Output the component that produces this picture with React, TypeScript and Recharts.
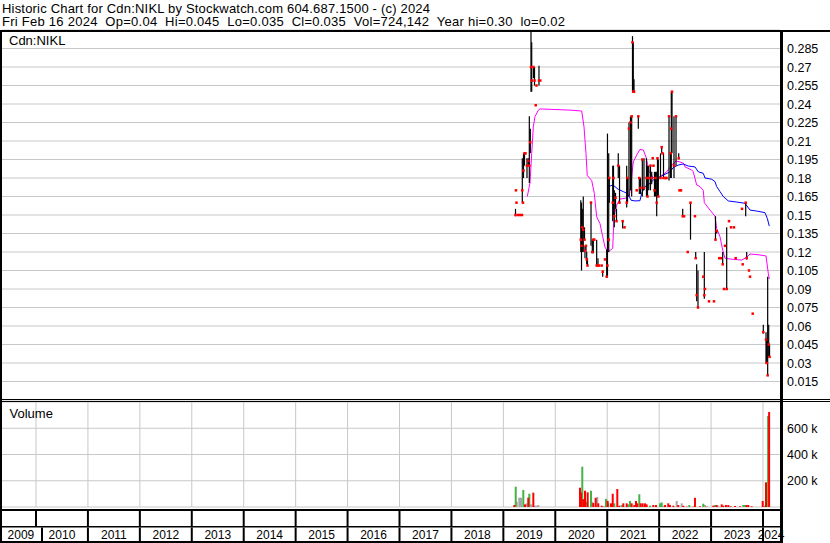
import React from 'react';
import { ComposedChart, Scatter, Line, XAxis, YAxis, CartesianGrid, ErrorBar } from 'recharts';

const FONT = '"Liberation Sans", Arial, Helvetica, sans-serif';

const headerLine1 = 'Historic Chart for Cdn:NIKL by Stockwatch.com 604.687.1500 - (c) 2024';
const headerLine2 = 'Fri Feb 16 2024  Op=0.04  Hi=0.045  Lo=0.035  Cl=0.035  Vol=724,142  Year hi=0.30  lo=0.02';
const symbolLabel = 'Cdn:NIKL';
const volumeLabel = 'Volume';

const xDomain: [number, number] = [2009.3453, 2024.3274];
const yearStarts = [2010, 2011, 2012, 2013, 2014, 2015, 2016, 2017, 2018, 2019, 2020, 2021, 2022, 2023, 2024];
const yearLabelPositions = [2009.71, 2010.5, 2011.5, 2012.5, 2013.5, 2014.5, 2015.5, 2016.5, 2017.5, 2018.5, 2019.5, 2020.5, 2021.5, 2022.5, 2023.5, 2024.154];

const priceTicks = [0.015, 0.03, 0.045, 0.06, 0.075, 0.09, 0.105, 0.12, 0.135, 0.15, 0.165, 0.18, 0.195, 0.21, 0.225, 0.24, 0.255, 0.27, 0.285];
const priceDomain: [number, number] = [0, 0.3];
const volumeTicks = [200000, 400000, 600000];
const volumeDomain: [number, number] = [0, 800000];

// trading days (fractional year), high, low, close
const tradeDates = [
  2019.234, 2019.243, 2019.253, 2019.282, 2019.320, 2019.359, 2019.365, 2019.378, 2019.388, 2019.407,
  2019.426, 2019.455, 2019.480, 2019.500, 2019.519, 2019.532, 2019.546, 2019.580, 2019.600, 2019.623,
  2019.638, 2019.686, 2019.711,
  2020.491, 2020.505, 2020.520, 2020.539, 2020.563, 2020.572, 2020.591, 2020.605, 2020.620, 2020.688,
  2020.713, 2020.732, 2020.751, 2020.797, 2020.822, 2020.842, 2020.894, 2020.913, 2020.957, 2020.990,
  2021.005, 2021.029,
  2021.040, 2021.106, 2021.121, 2021.136, 2021.160, 2021.179, 2021.213, 2021.237, 2021.298, 2021.333,
  2021.375, 2021.391, 2021.419, 2021.448, 2021.471, 2021.487, 2021.502, 2021.516, 2021.568, 2021.599,
  2021.618, 2021.641, 2021.676, 2021.708, 2021.756, 2021.776, 2021.799, 2021.833, 2021.857, 2021.876,
  2021.891, 2021.910, 2021.930, 2021.953, 2021.968, 2021.984, 2022.026, 2022.049, 2022.065, 2022.084,
  2022.122, 2022.142, 2022.190, 2022.219, 2022.234, 2022.248, 2022.286, 2022.325, 2022.377, 2022.392,
  2022.421, 2022.454, 2022.479,
  2022.550, 2022.604, 2022.690, 2022.704, 2022.723, 2022.748, 2022.850, 2022.870, 2022.883, 2022.960,
  2023.056, 2023.085, 2023.108, 2023.158, 2023.191, 2023.224, 2023.249, 2023.268, 2023.301, 2023.345,
  2023.384, 2023.441, 2023.474, 2023.596, 2023.609, 2023.667, 2023.686, 2023.730, 2023.750, 2023.802,
  2024.006, 2024.058, 2024.071, 2024.090, 2024.110, 2024.126,
];
const tradeHighs = [
  0.155, 0.17, 0.16, 0.15, 0.15, 0.15, 0.196, 0.16, 0.2, 0.2,
  0.2, 0.196, 0.196, 0.23, 0.22, 0.3, 0.29, 0.27, 0.27, 0.239,
  0.255, 0.271, 0.259,
  0.162, 0.16, 0.155, 0.165, 0.14, 0.125, 0.125, 0.12, 0.115, 0.161,
  0.13, 0.13, 0.13, 0.13, 0.115, 0.109, 0.109, 0.105, 0.114, 0.122,
  0.216, 0.2,
  0.18, 0.19, 0.19, 0.17, 0.168, 0.155, 0.2, 0.19, 0.145, 0.14,
  0.19, 0.18, 0.225, 0.23, 0.23, 0.295, 0.29, 0.26, 0.17, 0.23,
  0.18, 0.18, 0.195, 0.196, 0.196, 0.19, 0.19, 0.19, 0.185, 0.196,
  0.19, 0.185, 0.185, 0.185, 0.196, 0.195, 0.2, 0.205, 0.2, 0.2,
  0.18, 0.18, 0.23, 0.2, 0.25, 0.25, 0.23, 0.23, 0.2, 0.17,
  0.17, 0.155, 0.149,
  0.12, 0.16, 0.149, 0.12, 0.11, 0.105, 0.1, 0.12, 0.09, 0.08,
  0.08, 0.149, 0.137, 0.115, 0.115, 0.12, 0.09, 0.125, 0.14, 0.145,
  0.14, 0.14, 0.115, 0.155, 0.11, 0.16, 0.12, 0.105, 0.1, 0.07,
  0.061, 0.055, 0.05, 0.1, 0.061, 0.045,
];
const tradeLows = [
  0.149, 0.17, 0.16, 0.15, 0.15, 0.15, 0.16, 0.16, 0.18, 0.19,
  0.2, 0.18, 0.19, 0.176, 0.2, 0.25, 0.25, 0.261, 0.255, 0.239,
  0.255, 0.255, 0.259,
  0.12, 0.105, 0.12, 0.12, 0.13, 0.115, 0.12, 0.11, 0.109, 0.125,
  0.119, 0.119, 0.13, 0.109, 0.109, 0.109, 0.109, 0.1, 0.114, 0.099,
  0.1, 0.12,
  0.16, 0.145, 0.149, 0.14, 0.155, 0.145, 0.18, 0.16, 0.139, 0.14,
  0.156, 0.16, 0.165, 0.17, 0.165, 0.25, 0.25, 0.25, 0.17, 0.22,
  0.167, 0.167, 0.165, 0.17, 0.165, 0.165, 0.17, 0.17, 0.175, 0.196,
  0.19, 0.165, 0.165, 0.149, 0.165, 0.165, 0.18, 0.2, 0.2, 0.18,
  0.18, 0.18, 0.178, 0.18, 0.18, 0.2, 0.18, 0.19, 0.196, 0.17,
  0.17, 0.149, 0.149,
  0.12, 0.13, 0.149, 0.115, 0.08, 0.075, 0.1, 0.082, 0.09, 0.08,
  0.08, 0.13, 0.135, 0.115, 0.115, 0.11, 0.09, 0.125, 0.09, 0.145,
  0.14, 0.14, 0.115, 0.155, 0.11, 0.149, 0.114, 0.105, 0.1, 0.07,
  0.054, 0.03, 0.03, 0.02, 0.035, 0.035,
];
const tradeCloses = [
  0.15, 0.17, 0.16, 0.15, 0.15, 0.15, 0.17, 0.16, 0.186, 0.2,
  0.2, 0.19, 0.194, 0.19, 0.209, 0.27, 0.259, 0.27, 0.259, 0.239,
  0.255, 0.259, 0.259,
  0.13, 0.125, 0.14, 0.138, 0.13, 0.121, 0.125, 0.114, 0.109, 0.16,
  0.12, 0.13, 0.13, 0.109, 0.109, 0.109, 0.109, 0.104, 0.114, 0.1,
  0.109, 0.13,
  0.18, 0.16, 0.18, 0.149, 0.164, 0.145, 0.19, 0.16, 0.145, 0.14,
  0.16, 0.18, 0.22, 0.225, 0.23, 0.29, 0.25, 0.25, 0.17, 0.23,
  0.18, 0.172, 0.195, 0.172, 0.18, 0.165, 0.18, 0.19, 0.18, 0.196,
  0.19, 0.17, 0.18, 0.16, 0.196, 0.165, 0.18, 0.205, 0.2, 0.18,
  0.18, 0.18, 0.23, 0.2, 0.22, 0.25, 0.19, 0.23, 0.196, 0.17,
  0.17, 0.149, 0.149,
  0.12, 0.16, 0.149, 0.115, 0.085, 0.075, 0.1, 0.085, 0.09, 0.08,
  0.08, 0.13, 0.137, 0.115, 0.115, 0.11, 0.09, 0.125, 0.09, 0.145,
  0.14, 0.14, 0.115, 0.155, 0.11, 0.16, 0.115, 0.105, 0.1, 0.07,
  0.055, 0.049, 0.03, 0.02, 0.045, 0.035,
];

// short moving average (magenta)
const maShortDates = [
  2019.461, 2019.513, 2019.546, 2019.577, 2019.609, 2019.673, 2019.706, 2019.898, 2020.303, 2020.509,
  2020.553, 2020.591, 2020.616, 2020.701, 2020.751, 2020.797, 2020.861, 2020.913, 2020.957, 2020.990,
  2021.015, 2021.106, 2021.131, 2021.183, 2021.246, 2021.342, 2021.425, 2021.471, 2021.502, 2021.568,
  2021.631, 2021.695, 2021.747, 2021.810, 2021.876, 2021.953, 2022.049, 2022.145, 2022.242, 2022.325,
  2022.402, 2022.465, 2022.498, 2022.627, 2022.658, 2022.723, 2022.787, 2022.850, 2022.870, 2022.979,
  2023.076, 2023.108, 2023.172, 2023.224, 2023.268, 2023.428, 2023.590, 2023.686, 2023.750, 2023.942,
  2024.058, 2024.102, 2024.121,
];
const maShortValues = [
  0.165, 0.176, 0.2, 0.2216, 0.2297, 0.235, 0.236, 0.2357, 0.235, 0.2343,
  0.2216, 0.2, 0.182, 0.178, 0.1676, 0.1486, 0.143, 0.1324, 0.124, 0.1216,
  0.12, 0.123, 0.1486, 0.158, 0.163, 0.1635, 0.1654, 0.181, 0.193, 0.1986,
  0.2032, 0.2027, 0.197, 0.185, 0.181, 0.178, 0.182, 0.185, 0.1905, 0.1938,
  0.193, 0.192, 0.189, 0.1865, 0.185, 0.1743, 0.173, 0.17, 0.16, 0.154,
  0.149, 0.139, 0.1324, 0.1216, 0.1149, 0.114, 0.1135, 0.1157, 0.1184, 0.1176,
  0.1168, 0.1027, 0.098,
];

// long moving average (blue)
const maLongDates = [
  2021.021, 2021.106, 2021.150, 2021.213, 2021.310, 2021.375, 2021.425, 2021.458, 2021.535, 2021.631,
  2021.664, 2021.728, 2021.824, 2021.920, 2022.016, 2022.113, 2022.209, 2022.273, 2022.369, 2022.465,
  2022.561, 2022.690, 2022.754, 2022.850, 2022.883, 2023.012, 2023.076, 2023.108, 2023.172, 2023.235,
  2023.332, 2023.493, 2023.653, 2023.750, 2023.879, 2024.038, 2024.083, 2024.121,
];
const maLongValues = [
  0.173, 0.1743, 0.173, 0.1708, 0.169, 0.1676, 0.1649, 0.162, 0.1614, 0.1616,
  0.1676, 0.173, 0.1757, 0.1797, 0.181, 0.183, 0.185, 0.1886, 0.1905, 0.1914,
  0.1897, 0.189, 0.185, 0.1838, 0.18, 0.179, 0.177, 0.173, 0.169, 0.165,
  0.1614, 0.1605, 0.1595, 0.154, 0.1532, 0.1519, 0.1473, 0.141,
];

// volume: date, shares, direction (u = up, d = down, n = unchanged)
const volumeDates = [
  2019.211, 2019.238, 2019.257, 2019.307, 2019.340, 2019.384, 2019.417, 2019.449, 2019.480, 2019.500,
  2019.532, 2019.577, 2019.609, 2019.642, 2019.673,
  2020.476, 2020.495, 2020.520, 2020.539, 2020.572, 2020.605, 2020.624, 2020.688, 2020.713, 2020.732,
  2020.778, 2020.809, 2020.828, 2020.894, 2020.938, 2020.977, 2021.009, 2021.021, 2021.073, 2021.106,
  2021.136, 2021.194, 2021.233, 2021.279, 2021.310, 2021.375, 2021.406, 2021.439, 2021.471, 2021.522,
  2021.554, 2021.579, 2021.618, 2021.645, 2021.683, 2021.728, 2021.760, 2021.824, 2021.887, 2021.939,
  2022.016, 2022.049, 2022.080, 2022.113, 2022.176, 2022.209, 2022.273, 2022.338, 2022.369, 2022.434,
  2022.465, 2022.531, 2022.581, 2022.658, 2022.690, 2022.787, 2022.850, 2022.883, 2022.916, 2023.043,
  2023.076, 2023.108, 2023.139, 2023.205, 2023.235, 2023.287, 2023.332, 2023.378, 2023.461, 2023.557,
  2023.621, 2023.653, 2023.686, 2023.717, 2023.782, 2023.994, 2024.033, 2024.058, 2024.098, 2024.118,
];
const volumeValues = [
  15000, 155000, 40000, 71000, 71000, 130000, 20000, 28000, 71000, 101000,
  20000, 109000, 10000, 10000, 15000,
  147000, 110000, 307000, 60000, 124000, 40000, 112000, 124000, 40000, 30000,
  70000, 76000, 28000, 10000, 8000, 62000, 47000, 28000, 28000, 101000,
  28000, 137000, 10000, 15000, 28000, 28000, 20000, 46000, 28000, 15000,
  46000, 28000, 97000, 28000, 28000, 28000, 20000, 10000, 15000, 15000,
  28000, 35000, 10000, 15000, 28000, 15000, 10000, 46000, 15000, 28000,
  10000, 3000, 15000, 3000, 70000, 5000, 25000, 15000, 3000, 10000,
  15000, 15000, 10000, 20000, 10000, 15000, 15000, 5000, 8000, 5000,
  15000, 15000, 15000, 15000, 5000, 46000, 10000, 188000, 693000, 724142,
];
const volumeDirections = [
  'd', 'u', 'n', 'n', 'n', 'u', 'd', 'n', 'd', 'u',
  'n', 'd', 'n', 'n', 'n',
  'd', 'd', 'u', 'd', 'd', 'u', 'd', 'u', 'n', 'd',
  'd', 'n', 'd', 'd', 'n', 'u', 'd', 'u', 'd', 'd',
  'u', 'd', 'd', 'u', 'd', 'd', 'u', 'u', 'd', 'd',
  'd', 'd', 'u', 'd', 'd', 'd', 'd', 'u', 'd', 'd',
  'u', 'u', 'n', 'd', 'd', 'd', 'd', 'n', 'd', 'n',
  'd', 'd', 'u', 'd', 'd', 'd', 'u', 'n', 'd', 'd',
  'u', 'd', 'n', 'd', 'd', 'd', 'd', 'd', 'd', 'd',
  'u', 'u', 'd', 'd', 'd', 'd', 'u', 'd', 'u', 'd',
];

const COLORS = {
  grid: '#c8c8c8',
  range: '#000000',
  close: '#ff0000',
  maShort: '#ff00ff',
  maLong: '#0000ff',
  up: '#44b244',
  down: '#ff0000',
  flat: '#a6a6a6',
};

const candles = tradeDates.map((t, i) => ({
  t,
  lo: tradeLows[i],
  close: tradeCloses[i],
  span: [0, tradeHighs[i] - tradeLows[i]],
}));
const maShort = maShortDates.map((t, i) => ({ t, v: maShortValues[i] }));
const maLong = maLongDates.map((t, i) => ({ t, v: maLongValues[i] }));
const volumeRows = volumeDates.map((t, i) => ({ t, v: volumeValues[i], span: [volumeValues[i], 0], dir: volumeDirections[i] }));
const volUp = volumeRows.filter((r) => r.dir === 'u');
const volDown = volumeRows.filter((r) => r.dir === 'd');
const volFlat = volumeRows.filter((r) => r.dir === 'n');

// layout constants of the volume chart (chart-local y, plot bottom at 105)
const DIV_ROW1 = [107, 124];
const DIV_ROW2 = [125.5, 139];
const LABEL_BASELINE = 137;

const NoShape = () => <g />;
const CloseMark = (p: any) =>
  p.cx == null ? <g /> : <rect x={p.cx - 1.25} y={p.cy - 1.25} width={2.5} height={2.5} fill={COLORS.close} />;

const PriceTick = (p: any) => (
  <text x={p.x + 7} y={p.y} dy="0.36em" fontSize={12.5} fontFamily={FONT} fill="#000" textAnchor="start">
    {String(p.payload.value)}
  </text>
);
const VolumeTick = (p: any) => (
  <text x={p.x + 7} y={p.y} dy="0.36em" fontSize={12.5} fontFamily={FONT} fill="#000" textAnchor="start">
    {`${p.payload.value / 1000} k`}
  </text>
);
const DividerTick = (p: any) => {
  const first = p.payload.value === yearStarts[0];
  const x2 = p.x + (first ? 6 : 0);
  return (
    <g>
      <line x1={p.x} x2={p.x} y1={DIV_ROW1[0]} y2={DIV_ROW1[1]} stroke="#000" strokeWidth={2} />
      <line x1={x2} x2={x2} y1={DIV_ROW2[0]} y2={DIV_ROW2[1]} stroke="#000" strokeWidth={2} />
    </g>
  );
};
const YearLabelTick = (p: any) => (
  <text x={p.x} y={LABEL_BASELINE} fontSize={12} fontFamily={FONT} fill="#000" textAnchor="middle">
    {String(Math.floor(p.payload.value))}
  </text>
);

export default function App() {
  return (
    <div style={{ position: 'absolute', left: 0, top: 0, width: 830, height: 543, background: '#fff', fontFamily: FONT, overflow: 'hidden' }}>
      <div style={{ position: 'absolute', left: 0, top: 0 }}>
        <ComposedChart width={830} height={402} margin={{ top: 30, right: 3, bottom: 2, left: 2 }}>
          <CartesianGrid stroke={COLORS.grid} strokeWidth={1} verticalValues={yearStarts} />
          <XAxis
            type="number"
            dataKey="t"
            domain={xDomain}
            allowDataOverflow
            ticks={yearStarts}
            interval={0}
            height={0}
            tick={false}
            axisLine={false}
            tickLine={false}
          />
          <YAxis
            orientation="right"
            type="number"
            domain={priceDomain}
            allowDataOverflow
            ticks={priceTicks}
            interval={0}
            width={47}
            axisLine={false}
            tickLine={false}
            tickSize={0}
            tickMargin={0}
            tick={PriceTick}
          />
          <Line data={maShort} dataKey="v" stroke={COLORS.maShort} strokeWidth={1} dot={false} activeDot={false} isAnimationActive={false} />
          <Line data={maLong} dataKey="v" stroke={COLORS.maLong} strokeWidth={1} dot={false} activeDot={false} isAnimationActive={false} />
          <Scatter data={candles} dataKey="lo" shape={NoShape} isAnimationActive={false}>
            <ErrorBar dataKey="span" direction="y" width={0} stroke={COLORS.range} strokeWidth={1.2} isAnimationActive={false} />
          </Scatter>
          <Scatter data={candles} dataKey="close" shape={CloseMark} isAnimationActive={false} />
        </ComposedChart>
      </div>
      <div style={{ position: 'absolute', left: 0, top: 402 }}>
        <ComposedChart width={830} height={141} margin={{ top: 0, right: 3, bottom: 2, left: 2 }}>
          <CartesianGrid stroke={COLORS.grid} strokeWidth={1} xAxisId="yr" verticalValues={yearStarts} />
          <XAxis
            xAxisId="yr"
            type="number"
            dataKey="t"
            domain={xDomain}
            allowDataOverflow
            ticks={yearStarts}
            interval={0}
            height={19}
            axisLine={false}
            tickLine={false}
            tickSize={0}
            tickMargin={0}
            tick={DividerTick}
          />
          <XAxis
            xAxisId="lbl"
            type="number"
            dataKey="t"
            domain={xDomain}
            allowDataOverflow
            ticks={yearLabelPositions}
            interval={0}
            height={15}
            axisLine={false}
            tickLine={false}
            tickSize={0}
            tickMargin={0}
            tick={YearLabelTick}
          />
          <YAxis
            orientation="right"
            type="number"
            domain={volumeDomain}
            allowDataOverflow
            ticks={volumeTicks}
            interval={0}
            width={47}
            axisLine={false}
            tickLine={false}
            tickSize={0}
            tickMargin={0}
            tick={VolumeTick}
          />
          <Scatter xAxisId="yr" data={volFlat} dataKey="v" shape={NoShape} isAnimationActive={false}>
            <ErrorBar dataKey="span" direction="y" width={0} stroke={COLORS.flat} strokeWidth={2} isAnimationActive={false} />
          </Scatter>
          <Scatter xAxisId="yr" data={volUp} dataKey="v" shape={NoShape} isAnimationActive={false}>
            <ErrorBar dataKey="span" direction="y" width={0} stroke={COLORS.up} strokeWidth={2} isAnimationActive={false} />
          </Scatter>
          <Scatter xAxisId="yr" data={volDown} dataKey="v" shape={NoShape} isAnimationActive={false}>
            <ErrorBar dataKey="span" direction="y" width={0} stroke={COLORS.down} strokeWidth={2} isAnimationActive={false} />
          </Scatter>
        </ComposedChart>
      </div>
      <svg width={830} height={543} style={{ position: 'absolute', left: 0, top: 0, pointerEvents: 'none' }}>
        <text x={2} y={12.5} fontSize={13} textLength={428} lengthAdjust="spacing" fontFamily={FONT} fill="#000" style={{ whiteSpace: 'pre' }}>{headerLine1}</text>
        <text x={2} y={26.3} fontSize={13} textLength={563} lengthAdjust="spacing" fontFamily={FONT} fill="#000" style={{ whiteSpace: 'pre' }}>{headerLine2}</text>
        <text x={9} y={45} fontSize={13} fontFamily={FONT} fill="#000">{symbolLabel}</text>
        <text x={9.5} y={418} fontSize={13} fontFamily={FONT} fill="#000">{volumeLabel}</text>
        <rect x={0} y={30} width={830} height={2} fill="#000" />
        <rect x={0} y={30} width={2} height={513} fill="#000" />
        <rect x={780} y={30} width={3} height={513} fill="#000" />
        <rect x={0} y={399} width={830} height={1} fill="#000" />
        <rect x={0} y={401} width={830} height={1} fill="#000" />
        <rect x={0} y={509} width={783} height={2} fill="#000" />
        <rect x={0} y={526} width={783} height={1.5} fill="#000" />
        <rect x={0} y={541} width={783} height={2} fill="#000" />
      </svg>
    </div>
  );
}
